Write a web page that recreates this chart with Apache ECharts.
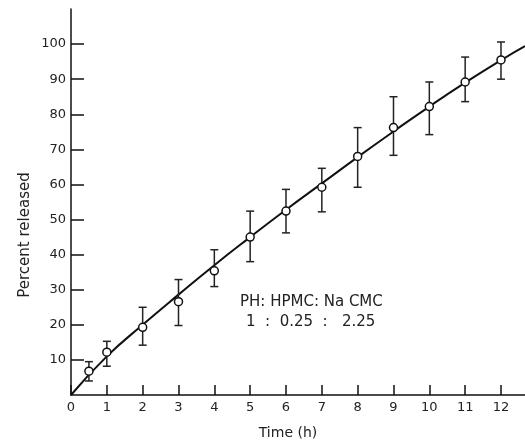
<!DOCTYPE html>
<html>
<head>
<meta charset="utf-8">
<script src="https://cdn.jsdelivr.net/npm/echarts@6/dist/echarts.min.js"></script>
<style>html,body{margin:0;padding:0;background:#fff}#c{width:525px;height:445px}</style>
</head>
<body>
<div id="c"></div>
<script>
// Measured points (time in h, percent released, error bar low/high)
var times = [0.5, 1, 2, 3, 4, 5, 6, 7, 8, 9, 10, 11, 12];
var means = [6.8, 12.2, 19.3, 26.6, 35.4, 45.0, 52.4, 59.2, 68.0, 76.2, 82.2, 89.2, 95.5];
var lows  = [4.0, 8.2, 14.2, 19.8, 30.9, 38.0, 46.2, 52.2, 59.2, 68.3, 74.2, 83.6, 90.0];
var highs = [9.5, 15.3, 25.0, 32.9, 41.4, 52.4, 58.6, 64.6, 76.2, 85.0, 89.2, 96.3, 100.6];
// Fitted curve
var curveT = [0, 1, 2, 3, 4, 5, 6, 7, 8, 9, 10, 11, 12, 12.67];
var curveV = [0, 11.0, 20.0, 28.6, 37.0, 45.0, 52.8, 60.3, 67.8, 75.1, 82.2, 89.0, 95.4, 99.4];
// Tick labels
var xTicks = [0, 1, 2, 3, 4, 5, 6, 7, 8, 9, 10, 11, 12];
var yTicks = [10, 20, 30, 40, 50, 60, 70, 80, 90, 100];
var legendLines = ['PH: HPMC: Na CMC', '1  :  0.25  :   2.25'];

var font = 'DejaVu Sans';
var chart = echarts.init(document.getElementById('c'));
chart.setOption({
  animation: false,
  backgroundColor: '#fff',
  grid: {left: 71, right: 0, top: 9, bottom: 48},
  xAxis: {
    type: 'value', min: 0, max: 12.67,
    axisLine: {lineStyle: {color: '#111', width: 1.5}},
    axisTick: {inside: true, length: 10, customValues: xTicks, lineStyle: {color: '#111', width: 1.5}},
    axisLabel: {customValues: xTicks, color: '#222', fontFamily: font, fontSize: 13, margin: 6},
    splitLine: {show: false},
    name: 'Time (h)', nameLocation: 'middle', nameGap: 31,
    nameTextStyle: {color: '#222', fontFamily: font, fontSize: 14, padding: [0, 20, 0, 0]}
  },
  yAxis: {
    type: 'value', min: 0, max: 110,
    axisLine: {show: true, lineStyle: {color: '#111', width: 1.5}},
    axisTick: {show: true, inside: true, length: 13, customValues: yTicks, lineStyle: {color: '#111', width: 1.5}},
    axisLabel: {customValues: yTicks, color: '#222', fontFamily: font, fontSize: 13, margin: 5},
    splitLine: {show: false}
  },
  graphic: [
    {type: 'text', x: 25, y: 235, rotation: Math.PI / 2,
     style: {text: 'Percent released', font: '15px "DejaVu Sans"', fill: '#222', align: 'center', verticalAlign: 'middle'}},
    {type: 'text', left: 240, top: 295,
     style: {text: legendLines[0], font: '15px "DejaVu Sans"', fill: '#222'}},
    {type: 'text', left: 246, top: 315,
     style: {text: legendLines[1], font: '15px "DejaVu Sans"', fill: '#222'}}
  ],
  series: [
    {
      type: 'line', smooth: true, showSymbol: false,
      data: curveT.map(function (t, i) { return [t, curveV[i]]; }),
      lineStyle: {color: '#111', width: 2}, z: 2
    },
    {
      type: 'custom',
      data: times.map(function (t, i) { return [t, lows[i], highs[i]]; }),
      renderItem: function (params, api) {
        var lo = api.coord([api.value(0), api.value(1)]);
        var hi = api.coord([api.value(0), api.value(2)]);
        var w = 4;
        var st = {stroke: '#222', lineWidth: 1.5};
        return {type: 'group', children: [
          {type: 'line', shape: {x1: lo[0], y1: lo[1], x2: hi[0], y2: hi[1]}, style: st},
          {type: 'line', shape: {x1: hi[0] - w, y1: hi[1], x2: hi[0] + w, y2: hi[1]}, style: st},
          {type: 'line', shape: {x1: lo[0] - w, y1: lo[1], x2: lo[0] + w, y2: lo[1]}, style: st}
        ]};
      },
      z: 3
    },
    {
      type: 'scatter', symbol: 'circle', symbolSize: 8,
      data: times.map(function (t, i) { return [t, means[i]]; }),
      itemStyle: {color: '#fff', opacity: 1, borderColor: '#111', borderWidth: 1.5}, z: 4
    }
  ]
});
</script>
</body>
</html>
